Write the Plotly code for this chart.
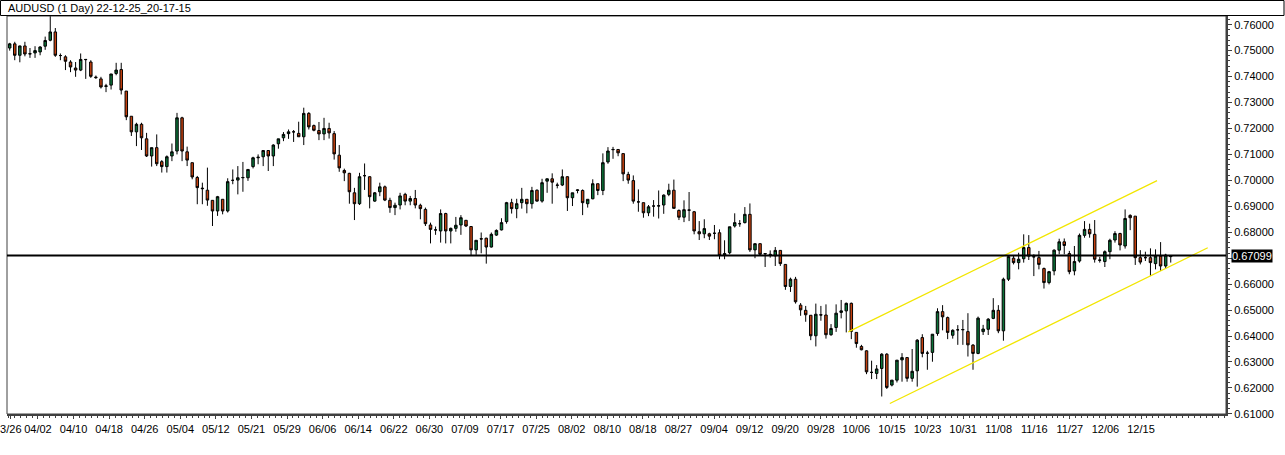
import plotly.graph_objects as go

# ---------------- data (AUDUSD daily) ----------------
opens = [
    .7510, .7526, .7482, .7518, .7487, .7491, .7495, .7517, .7540, .7572,
    .7481, .7476, .7456, .7433, .7425, .7465, .7456, .7398, .7391, .7362,
    .7367, .7412, .7427, .7344, .7247, .7187, .7216, .7160, .7094, .7126,
    .7072, .7053, .7094, .7113, .7241, .7110, .7068, .7011, .6970, .6962,
    .6923, .6882, .6927, .6882, .7000, .7001, .7010, .7010, .7053, .7087,
    .7091, .7115, .7094, .7141, .7164, .7180, .7187, .7181, .7168, .7258,
    .7211, .7192, .7179, .7200, .7180, .7097, .7038, .7027, .6952, .6910,
    .7018, .7014, .6920, .6956, .6975, .6923, .6895, .6905, .6946, .6920,
    .6930, .6904, .6888, .6828, .6809, .6805, .6872, .6805, .6815, .6828,
    .6846, .6822, .6732, .6775, .6777, .6743, .6789, .6809, .6841, .6914,
    .6891, .6914, .6927, .6910, .6962, .6920, .6997, .7006, .6982, .6982,
    .7014, .6933, .6961, .6961, .6910, .6929, .6987, .6961, .7071, .7118,
    .7119, .7103, .7023, .6999, .6917, .6914, .6875, .6901, .6901, .6905,
    .6946, .6962, .6884, .6858, .6886, .6879, .6802, .6794, .6794, .6796,
    .6798, .6711, .6721, .6824, .6833, .6837, .6869, .6732, .6756, .6718,
    .6715, .6709, .6730, .6676, .6591, .6619, .6519, .6499, .6480, .6401,
    .6482, .6481, .6405, .6433, .6491, .6497, .6526, .6414, .6360, .6343,
    .6260, .6256, .6275, .6330, .6211, .6230, .6308, .6317, .6237, .6266,
    .6394, .6334, .6337, .6410, .6494, .6471, .6403, .6424, .6424, .6417,
    .6365, .6333, .6417, .6426, .6468, .6499, .6420, .6619, .6700, .6683,
    .6698, .6741, .6706, .6702, .6660, .6606, .6651, .6731, .6763, .6718,
    .6651, .6689, .6788, .6811, .6792, .6693, .6687, .6725, .6770, .6795,
    .6747, .6865, .6862, .6702, .6702, .6702, .6679, .6708, .6670, .6706,
]
highs = [
    .7530, .7534, .7519, .7534, .7510, .7517, .7517, .7554, .7640, .7587,
    .7489, .7482, .7463, .7456, .7489, .7467, .7463, .7404, .7399, .7372,
    .7410, .7453, .7453, .7344, .7247, .7222, .7222, .7183, .7126, .7177,
    .7078, .7096, .7142, .7260, .7245, .7130, .7068, .7017, .6991, .7049,
    .6923, .6940, .6927, .7008, .7042, .7055, .7071, .7042, .7091, .7100,
    .7115, .7115, .7139, .7160, .7186, .7196, .7194, .7226, .7280, .7263,
    .7215, .7225, .7241, .7222, .7190, .7136, .7045, .7029, .6971, .7029,
    .7065, .7016, .6955, .6991, .6980, .6933, .6914, .6952, .6952, .6940,
    .6963, .6910, .6895, .6837, .6822, .6888, .6875, .6818, .6859, .6866,
    .6846, .6824, .6769, .6799, .6779, .6799, .6811, .6854, .6917, .6929,
    .6929, .6971, .6927, .6975, .6965, .7006, .7007, .7027, .6991, .7042,
    .7016, .6952, .6965, .6965, .6927, .7004, .6987, .7104, .7128, .7129,
    .7119, .7103, .7033, .7019, .6965, .6914, .6905, .6924, .6961, .6946,
    .6987, .7003, .6888, .6923, .6955, .6882, .6843, .6850, .6798, .6828,
    .6811, .6769, .6821, .6873, .6847, .6897, .6911, .6756, .6756, .6718,
    .6730, .6743, .6730, .6676, .6625, .6628, .6527, .6516, .6480, .6525,
    .6516, .6522, .6446, .6522, .6539, .6529, .6529, .6414, .6366, .6345,
    .6305, .6288, .6334, .6334, .6230, .6307, .6334, .6317, .6350, .6388,
    .6407, .6343, .6407, .6507, .6519, .6475, .6426, .6442, .6462, .6488,
    .6369, .6475, .6443, .6469, .6546, .6519, .6625, .6708, .6712, .6721,
    .6792, .6789, .6715, .6728, .6664, .6651, .6734, .6775, .6776, .6728,
    .6747, .6795, .6843, .6833, .6847, .6705, .6730, .6775, .6804, .6798,
    .6888, .6869, .6862, .6731, .6725, .6738, .6734, .6762, .6717, .6708,
]
lows = [
    .7500, .7463, .7455, .7478, .7472, .7472, .7482, .7503, .7536, .7476,
    .7463, .7425, .7417, .7399, .7421, .7391, .7395, .7391, .7354, .7340,
    .7350, .7405, .7331, .7232, .7171, .7132, .7117, .7090, .7053, .7055,
    .7030, .7030, .7074, .7100, .7074, .7055, .7004, .6908, .6908, .6902,
    .6824, .6863, .6869, .6876, .6985, .6946, .6956, .6998, .7046, .7062,
    .7055, .7036, .7055, .7122, .7151, .7160, .7148, .7168, .7136, .7196,
    .7189, .7155, .7155, .7161, .7080, .7033, .6997, .6910, .6847, .6905,
    .6963, .6892, .6917, .6939, .6920, .6875, .6866, .6888, .6904, .6904,
    .6892, .6850, .6824, .6757, .6790, .6760, .6757, .6757, .6802, .6790,
    .6820, .6711, .6713, .6719, .6679, .6741, .6786, .6807, .6833, .6872,
    .6854, .6891, .6873, .6891, .6918, .6914, .6952, .6910, .6969, .6978,
    .6882, .6901, .6950, .6866, .6895, .6927, .6943, .6943, .7064, .7083,
    .7093, .6997, .6987, .6910, .6879, .6856, .6862, .6860, .6853, .6871,
    .6939, .6892, .6847, .6839, .6843, .6792, .6770, .6777, .6770, .6773,
    .6696, .6696, .6715, .6818, .6821, .6834, .6724, .6700, .6710, .6666,
    .6702, .6670, .6670, .6578, .6570, .6525, .6478, .6455, .6384, .6360,
    .6459, .6390, .6401, .6416, .6468, .6414, .6388, .6355, .6345, .6253,
    .6234, .6234, .6167, .6196, .6206, .6221, .6224, .6224, .6224, .6205,
    .6318, .6270, .6301, .6401, .6422, .6388, .6390, .6366, .6366, .6321,
    .6270, .6330, .6404, .6404, .6465, .6411, .6382, .6612, .6676, .6657,
    .6683, .6693, .6631, .6657, .6583, .6599, .6634, .6715, .6715, .6638,
    .6634, .6683, .6779, .6779, .6683, .6683, .6666, .6696, .6760, .6730,
    .6737, .6808, .6674, .6676, .6689, .6631, .6657, .6651, .6660, .6683,
]
closes = [
    .7526, .7482, .7518, .7487, .7488, .7500, .7514, .7539, .7572, .7482,
    .7481, .7459, .7437, .7425, .7466, .7466, .7401, .7396, .7360, .7364,
    .7410, .7425, .7348, .7245, .7187, .7216, .7164, .7094, .7126, .7064,
    .7053, .7091, .7110, .7241, .7113, .7078, .7013, .6972, .6968, .6924,
    .6882, .6937, .6882, .6995, .7000, .7010, .7011, .7042, .7087, .7089,
    .7115, .7094, .7136, .7160, .7177, .7187, .7187, .7168, .7258, .7206,
    .7193, .7179, .7200, .7183, .7102, .7048, .7029, .6956, .6910, .7014,
    .7018, .6937, .6952, .6975, .6924, .6895, .6904, .6940, .6920, .6930,
    .6905, .6891, .6833, .6811, .6809, .6872, .6805, .6815, .6827, .6856,
    .6824, .6732, .6769, .6774, .6743, .6792, .6807, .6837, .6914, .6891,
    .6910, .6927, .6910, .6961, .6920, .6991, .7006, .6993, .6981, .7014,
    .6933, .6952, .6963, .6914, .6927, .6987, .6961, .7068, .7113, .7119,
    .7106, .7025, .7001, .6920, .6917, .6875, .6898, .6901, .6902, .6943,
    .6962, .6892, .6858, .6887, .6885, .6805, .6794, .6814, .6785, .6796,
    .6711, .6718, .6821, .6837, .6833, .6869, .6732, .6756, .6715, .6717,
    .6714, .6730, .6679, .6591, .6619, .6532, .6501, .6482, .6401, .6484,
    .6481, .6405, .6429, .6488, .6497, .6526, .6418, .6371, .6347, .6262,
    .6260, .6273, .6330, .6202, .6230, .6307, .6317, .6237, .6264, .6384,
    .6333, .6334, .6407, .6494, .6474, .6414, .6422, .6424, .6425, .6366,
    .6333, .6469, .6427, .6465, .6499, .6420, .6619, .6706, .6683, .6696,
    .6741, .6708, .6705, .6676, .6606, .6648, .6731, .6763, .6749, .6648,
    .6687, .6788, .6811, .6794, .6696, .6692, .6725, .6769, .6795, .6751,
    .6853, .6856, .6702, .6685, .6702, .6683, .6708, .6670, .6712, .67099,
]
bars = list(range(len(opens)))

date_labels = ["3/26", "04/02", "04/10", "04/18", "04/26", "05/04", "05/12", "05/21",
               "05/29", "06/06", "06/14", "06/22", "06/30", "07/09", "07/17", "07/25",
               "08/02", "08/10", "08/18", "08/27", "09/04", "09/12", "09/20", "09/28",
               "10/06", "10/15", "10/23", "10/31", "11/08", "11/16", "11/27", "12/06",
               "12/15"]
bars_per_label = 7.018
label_pos = [0.22] + [5.58 + bars_per_label * k for k in range(len(date_labels) - 1)]

price_ticks = [0.61, 0.62, 0.63, 0.64, 0.65, 0.66, 0.67, 0.68, 0.69, 0.70,
               0.71, 0.72, 0.73, 0.74, 0.75, 0.76]
current_price = 0.67099

channel_upper_x = [165.4, 226.3]
channel_upper_y = [0.6416, 0.6999]
channel_lower_x = [173.6, 236.3]
channel_lower_y = [0.6140, 0.6740]

title_text = "AUDUSD (1 Day) 22-12-25_20-17-15"

# ---------------- figure ----------------
W, H = 1285, 455
ML, MR, MT, MB = 7, 59, 16, 41
PW, PH = W - ML - MR, H - MT - MB
FONT = "Liberation Sans, Arial, sans-serif"
AXC = "#404040"


def px2paper_x(px):
    return (px - ML) / PW


def px2paper_y(py):
    return (H - MB - py) / PH


fig = go.Figure()
fig.add_trace(go.Candlestick(
    x=bars, open=opens, high=highs, low=lows, close=closes,
    increasing=dict(fillcolor="#0b7339", line=dict(color="#000000", width=1)),
    decreasing=dict(fillcolor="#c4400f", line=dict(color="#000000", width=1)),
    whiskerwidth=0, hoverinfo="skip", showlegend=False,
))
for cx, cy in ((channel_upper_x, channel_upper_y), (channel_lower_x, channel_lower_y)):
    fig.add_trace(go.Scatter(x=cx, y=cy, mode="lines",
                             line=dict(color="#f2e600", width=1.2),
                             hoverinfo="skip", showlegend=False))

price_text = ["" if abs(v - 0.67) < 1e-9 else f"{v:.5f}" for v in price_ticks]

fig.update_layout(
    width=W, height=H,
    margin=dict(l=ML, r=MR, t=MT, b=MB, pad=0, autoexpand=False),
    paper_bgcolor="white", plot_bgcolor="white",
    font=dict(family=FONT, size=11, color="black"),
    boxgap=0.3,
    xaxis=dict(
        range=[-0.53, 239.9], rangeslider=dict(visible=False),
        automargin=False,
        showgrid=False, zeroline=False,
        showline=True, linecolor=AXC, linewidth=2, mirror=False,
        tickmode="array", tickvals=label_pos, ticktext=date_labels,
        ticks="outside", ticklen=3, tickcolor=AXC, tickwidth=1,
        minor=dict(tickmode="linear", tick0=label_pos[1], dtick=bars_per_label / 6,
                   ticks="outside", ticklen=2, tickcolor=AXC, showgrid=False),
        tickfont=dict(family=FONT, size=11, color="black"),
        ticklabelstandoff=1,
        ticklabeloverflow="allow",
        fixedrange=True,
    ),
    yaxis=dict(
        side="right", range=[0.60995, 0.76334],
        automargin=False,
        showgrid=False, zeroline=False,
        showline=True, linecolor=AXC, linewidth=2, mirror=False,
        tickmode="array", tickvals=price_ticks, ticktext=price_text,
        ticks="outside", ticklen=4, tickcolor=AXC, tickwidth=1,
        minor=dict(tickmode="linear", tick0=0.61, dtick=0.002,
                   ticks="outside", ticklen=2, tickcolor=AXC, showgrid=False),
        tickfont=dict(family=FONT, size=11, color="black"),
        ticklabeloverflow="allow",
        fixedrange=True,
    ),
    shapes=[
        # plot frame
        dict(type="rect", xref="paper", yref="paper", x0=0, x1=1, y0=0, y1=1,
             line=dict(color=AXC, width=1), layer="above"),
        # title box
        dict(type="rect", xref="paper", yref="paper",
             x0=px2paper_x(0.5), x1=px2paper_x(1284), y0=px2paper_y(15.5), y1=px2paper_y(0.5),
             line=dict(color="black", width=1), fillcolor="white", layer="above"),
        # current price line
        dict(type="line", xref="paper", yref="y", x0=0, x1=1,
             y0=current_price, y1=current_price,
             line=dict(color="black", width=2), layer="above"),
    ],
    annotations=[
        dict(text=title_text, xref="paper", yref="paper",
             x=px2paper_x(6), y=px2paper_y(8), xanchor="left", yanchor="middle",
             showarrow=False, font=dict(family=FONT, size=11, color="black")),
        dict(text=f"{current_price:.5f}", xref="paper", yref="y",
             x=px2paper_x(1231), y=current_price, xanchor="left", yanchor="middle",
             showarrow=False, bgcolor="black", borderpad=0,
             font=dict(family=FONT, size=11, color="white")),
    ],
)

fig.write_html("out.html", config={"displayModeBar": False},
               post_script="document.body.style.margin='0';document.body.style.overflow='hidden';")
